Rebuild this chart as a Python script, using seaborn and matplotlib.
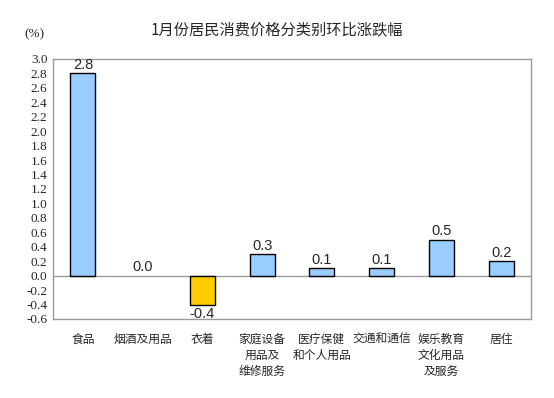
import pandas as pd
import seaborn as sns
import matplotlib.pyplot as plt
import matplotlib.ticker as ticker

# categories and month-on-month change (%)
categories = ['食品', '烟酒及用品', '衣着', '家庭设备\n用品及\n维修服务', '医疗保健\n和个人用品',
              '交通和通信', '娱乐教育\n文化用品\n及服务', '居住']
values = [2.8, 0.0, -0.4, 0.3, 0.1, 0.1, 0.5, 0.2]
value_labels = ['2.8', '0.0', '-0.4', '0.3', '0.1', '0.1', '0.5', '0.2']
y_ticks = [-0.6, -0.4, -0.2, 0.0, 0.2, 0.4, 0.6, 0.8, 1.0, 1.2, 1.4, 1.6, 1.8, 2.0,
           2.2, 2.4, 2.6, 2.8, 3.0]

df = pd.DataFrame({'Category': categories, 'Value': values})
df['Sign'] = ['neg' if v < 0 else 'pos' for v in values]

sns.set_style('white')
plt.rcParams['font.family'] = ['Noto Sans CJK SC', 'DejaVu Sans']

fig = plt.figure(figsize=(5.54, 3.98), dpi=100)
ax = fig.add_axes([0.0957, 0.1985, 0.8628, 0.6533])

palette = {'pos': '#99CCFF', 'neg': '#FFCC00'}
sns.barplot(x='Category', y='Value', hue='Sign', data=df, ax=ax, palette=palette,
            dodge=False, legend=False, width=0.42, saturation=1.0,
            edgecolor='black', linewidth=1.0)

# no outline for a zero-height bar
for p in ax.patches:
    if abs(p.get_height()) < 1e-9:
        p.set_linewidth(0)

ax.set_ylim(-0.6, 3.0)
ax.set_xlim(-0.5, len(categories) - 0.5)
ax.yaxis.set_major_locator(ticker.FixedLocator(y_ticks))
ax.set_yticklabels(['%.1f' % t for t in y_ticks], family='Liberation Serif', fontsize=9.5)
ax.tick_params(axis='y', direction='in', length=3, color='#888888', pad=4)
ax.tick_params(axis='x', length=0, pad=10)
for lab in ax.get_xticklabels():
    lab.set_fontsize(8.5)
    lab.set_verticalalignment('top')
    lab.set_linespacing(1.3)

for side in ax.spines.values():
    side.set_color('#999999')
    side.set_linewidth(1.0)

ax.axhline(0, color='#999999', linewidth=1.0, zorder=0.5)

# value labels
for i, (v, t) in enumerate(zip(values, value_labels)):
    if v < 0:
        ax.text(i, v - 0.03, t, ha='center', va='top', fontsize=10.5, family='Liberation Sans')
    else:
        ax.text(i, v + 0.02, t, ha='center', va='bottom', fontsize=10.5, family='Liberation Sans')

ax.set_xlabel('')
ax.set_ylabel('')
fig.text(0.5, 0.925, '1月份居民消费价格分类别环比涨跌幅', ha='center', va='center',
         fontsize=11, fontweight='medium')
fig.text(0.063, 0.915, '(%)', ha='center', va='center', fontsize=9.5, family='Liberation Serif')

plt.savefig('out.png', dpi=100)
